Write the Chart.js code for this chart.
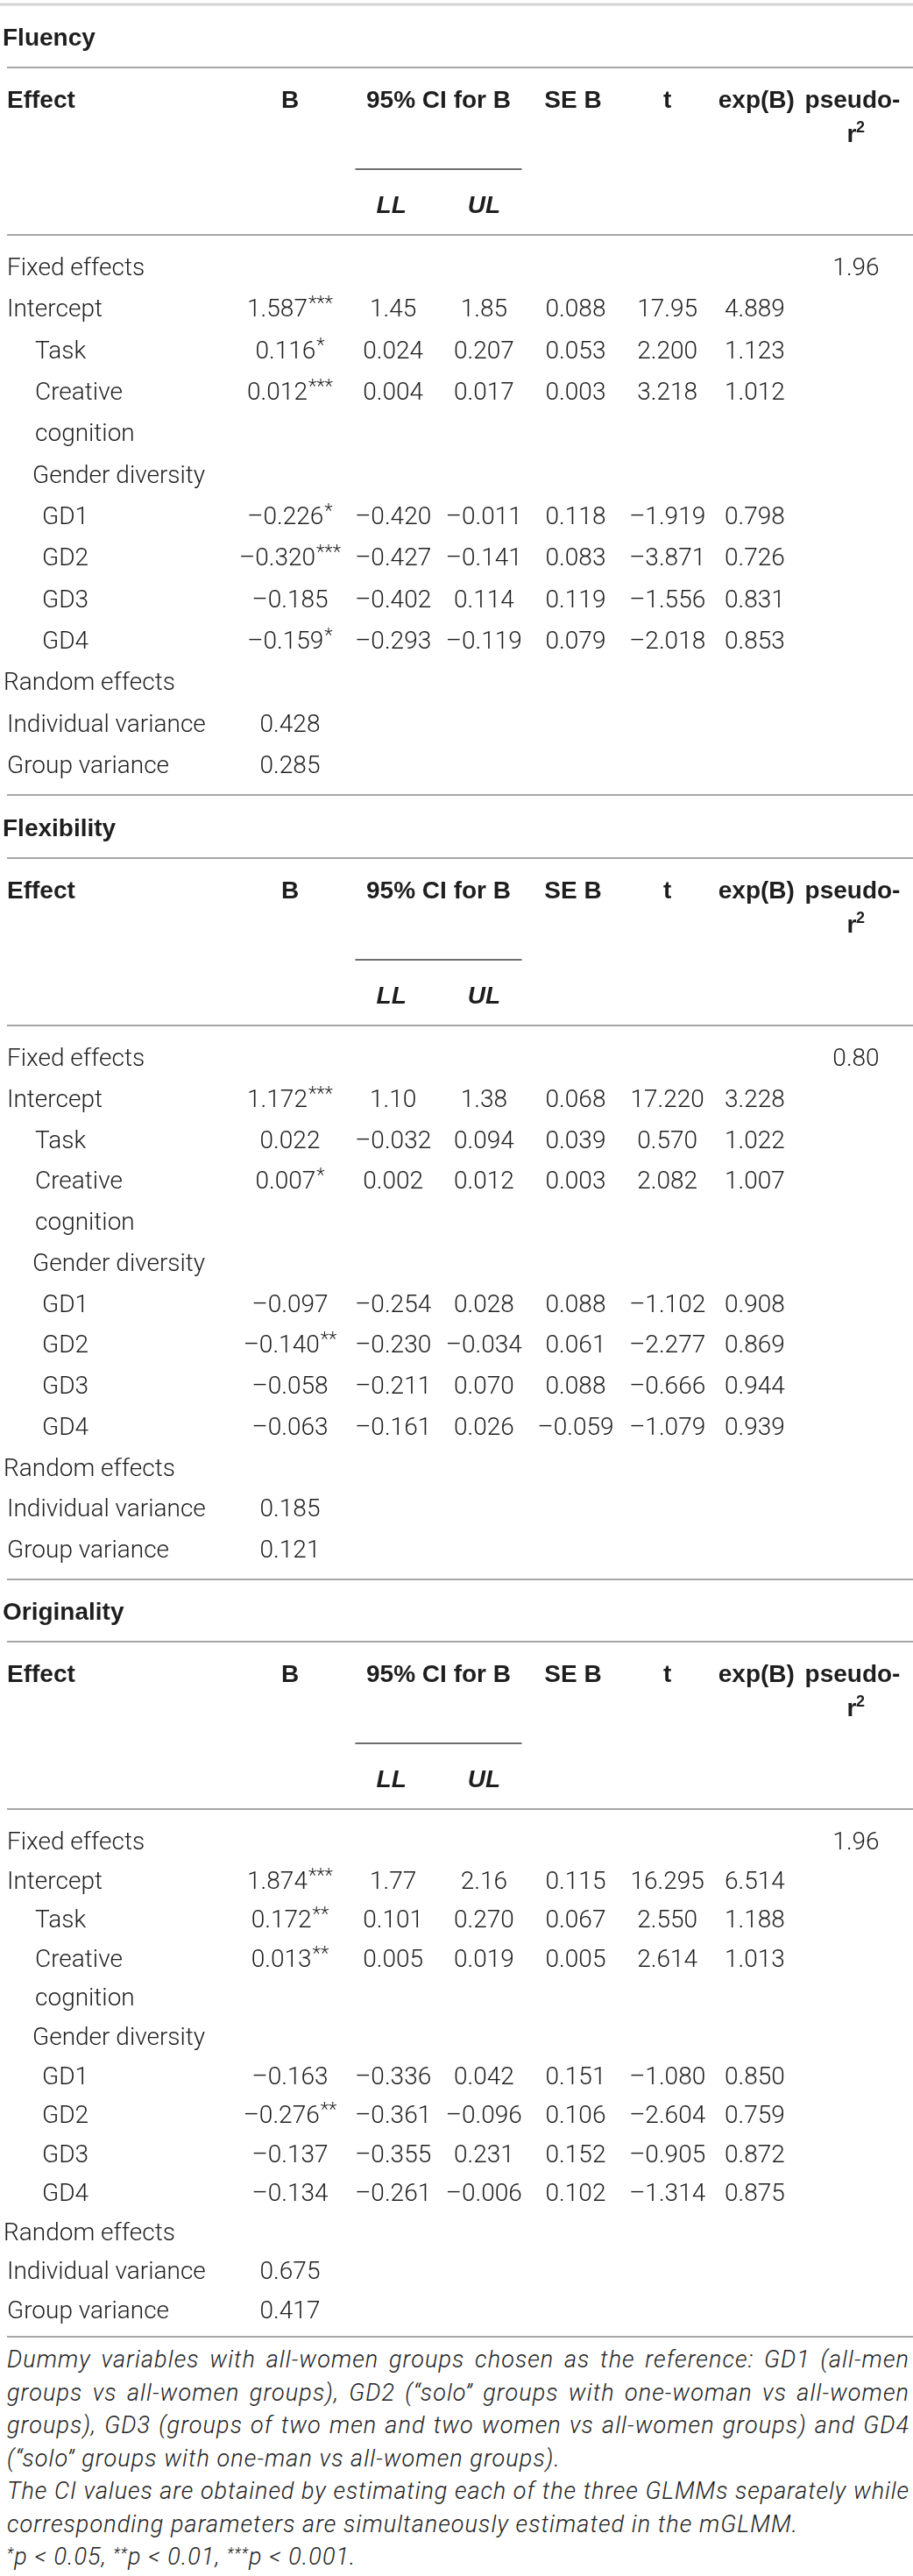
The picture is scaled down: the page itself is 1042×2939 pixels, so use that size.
<!DOCTYPE html>
<html>
<head>
<meta charset="utf-8">
<script src="https://cdn.jsdelivr.net/npm/chart.js@4.4.1/dist/chart.umd.min.js"></script>
<style>
  html, body { margin: 0; padding: 0; background: #fff; }
  canvas { display: block; }
  #notes {
    margin: 5px 0 0 8px;
    width: 1030px;
    font: italic 300 24px Roboto, "Liberation Sans", sans-serif;
    line-height: 37.5px;
    color: #222;
  }
  #notes div { white-space: nowrap; }
  #notes .j { text-align: justify; text-align-last: justify; }
  #notes sup { font-size: 0.65em; line-height: 0; vertical-align: 0.4em; }
</style>
</head>
<body>
<canvas id="fluency"></canvas>
<canvas id="flexibility"></canvas>
<canvas id="originality"></canvas>
<div id="notes">
  <div class="j">Dummy variables with all-women groups chosen as the reference: GD1 (all-men</div>
  <div class="j">groups vs all-women groups), GD2 (“solo” groups with one-woman vs all-women</div>
  <div class="j">groups), GD3 (groups of two men and two women vs all-women groups) and GD4</div>
  <div>(“solo” groups with one-man vs all-women groups).</div>
  <div class="j">The CI values are obtained by estimating each of the three GLMMs separately while</div>
  <div id="ref-line">corresponding parameters are simultaneously estimated in the mGLMM.</div>
  <div><sup>*</sup>p &lt; 0.05, <sup>**</sup>p &lt; 0.01, <sup>***</sup>p &lt; 0.001.</div>
</div>
<script>
// table rows (y categories) and columns (x categories, two blank slots after Effect)
const rows = ['Fixed effects', 'Intercept', 'Task', 'Creative', 'cognition', 'Gender diversity',
  'GD1', 'GD2', 'GD3', 'GD4', 'Random effects', 'Individual variance', 'Group variance'];
const columns = ['Effect', '', '', 'B', 'LL', 'UL', 'SE B', 't', 'exp(B)', 'pseudo-r2'];
const sectionTitles = ['Fluency', 'Flexibility', 'Originality'];

// Fluency
const fluencyB   = [null, '1.587***', '0.116*', '0.012***', null, null, '–0.226*', '–0.320***', '–0.185', '–0.159*', null, '0.428', '0.285'];
const fluencyLL  = [null, '1.45', '0.024', '0.004', null, null, '–0.420', '–0.427', '–0.402', '–0.293', null, null, null];
const fluencyUL  = [null, '1.85', '0.207', '0.017', null, null, '–0.011', '–0.141', '0.114', '–0.119', null, null, null];
const fluencySE  = [null, '0.088', '0.053', '0.003', null, null, '0.118', '0.083', '0.119', '0.079', null, null, null];
const fluencyT   = [null, '17.95', '2.200', '3.218', null, null, '–1.919', '–3.871', '–1.556', '–2.018', null, null, null];
const fluencyExp = [null, '4.889', '1.123', '1.012', null, null, '0.798', '0.726', '0.831', '0.853', null, null, null];
const fluencyR2  = ['1.96', null, null, null, null, null, null, null, null, null, null, null, null];

// Flexibility
const flexB   = [null, '1.172***', '0.022', '0.007*', null, null, '–0.097', '–0.140**', '–0.058', '–0.063', null, '0.185', '0.121'];
const flexLL  = [null, '1.10', '–0.032', '0.002', null, null, '–0.254', '–0.230', '–0.211', '–0.161', null, null, null];
const flexUL  = [null, '1.38', '0.094', '0.012', null, null, '0.028', '–0.034', '0.070', '0.026', null, null, null];
const flexSE  = [null, '0.068', '0.039', '0.003', null, null, '0.088', '0.061', '0.088', '–0.059', null, null, null];
const flexT   = [null, '17.220', '0.570', '2.082', null, null, '–1.102', '–2.277', '–0.666', '–1.079', null, null, null];
const flexExp = [null, '3.228', '1.022', '1.007', null, null, '0.908', '0.869', '0.944', '0.939', null, null, null];
const flexR2  = ['0.80', null, null, null, null, null, null, null, null, null, null, null, null];

// Originality
const origB   = [null, '1.874***', '0.172**', '0.013**', null, null, '–0.163', '–0.276**', '–0.137', '–0.134', null, '0.675', '0.417'];
const origLL  = [null, '1.77', '0.101', '0.005', null, null, '–0.336', '–0.361', '–0.355', '–0.261', null, null, null];
const origUL  = [null, '2.16', '0.270', '0.019', null, null, '0.042', '–0.096', '0.231', '–0.006', null, null, null];
const origSE  = [null, '0.115', '0.067', '0.005', null, null, '0.151', '0.106', '0.152', '0.102', null, null, null];
const origT   = [null, '16.295', '2.550', '2.614', null, null, '–1.080', '–2.604', '–0.905', '–1.314', null, null, null];
const origExp = [null, '6.514', '1.188', '1.013', null, null, '0.850', '0.759', '0.872', '0.875', null, null, null];
const origR2  = ['1.96', null, null, null, null, null, null, null, null, null, null, null, null];

// layout only
const W = 1042;
const rowIndent = [0, 0, 32, 32, 32, 29, 40, 40, 40, 40, -4, 0, 0];
const sectionBoxes = [
  { height: 910, top: 304, body: 568, topRule: true },
  { height: 895, top: 296, body: 561, topRule: false },
  { height: 864, top: 295, body: 535, topRule: false }
];
const BODY = '300 28px Roboto, "Liberation Sans", sans-serif';
const STARS = '300 22px Roboto, "Liberation Sans", sans-serif';
const HEAD = 'bold 28px "Liberation Sans", Arial, sans-serif';
const HEAD_IT = 'italic bold 28px "Liberation Sans", Arial, sans-serif';
const INK = '#1e1e1e';

function hline(ctx, x1, x2, y, color, w) {
  ctx.save();
  ctx.strokeStyle = color;
  ctx.lineWidth = w;
  ctx.beginPath();
  ctx.moveTo(x1, y);
  ctx.lineTo(x2, y);
  ctx.stroke();
  ctx.restore();
}

function drawValue(ctx, text, cx, y) {
  const m = text.match(/^(.*?)(\*+)$/);
  const main = m ? m[1] : text;
  const stars = m ? m[2] : '';
  ctx.font = BODY;
  const w1 = ctx.measureText(main).width;
  ctx.font = STARS;
  const w2 = stars ? ctx.measureText(stars).width + 1 : 0;
  const x0 = cx - (w1 + w2) / 2;
  ctx.textAlign = 'left';
  ctx.font = BODY;
  ctx.fillText(main, x0, y);
  if (stars) {
    ctx.font = STARS;
    ctx.fillText(stars, x0 + w1 + 1, y - 8);
  }
}

const tablePlugin = {
  id: 'tableText',
  afterDatasetsDraw(chart, args, opts) {
    const ctx = chart.ctx;
    const xs = chart.scales.x;
    const T = chart.chartArea.top;
    const H = chart.height;
    const px = (c) => xs.getPixelForValue(columns.indexOf(c));
    ctx.save();
    ctx.fillStyle = INK;
    ctx.textBaseline = 'alphabetic';

    if (opts.topRule) hline(ctx, 0, W, 5, '#d4d4d4', 3);
    // section title and header
    ctx.font = HEAD;
    ctx.textAlign = 'left';
    ctx.fillText(opts.title, 3, T - 262 + 10);
    hline(ctx, 8, W, T - 227, '#a6a6a6', 2);
    const hy = T - 191 + 10;
    ctx.fillText('Effect', px('Effect'), hy);
    ctx.textAlign = 'center';
    ctx.fillText('B', px('B'), hy);
    const ciMid = (px('LL') + px('UL')) / 2 + 8;
    ctx.fillText('95% CI for B', ciMid, hy);
    ctx.fillText('SE B', px('SE B'), hy);
    ctx.fillText('t', px('t'), hy);
    ctx.fillText('exp(B)', px('exp(B)') - 6, hy);
    ctx.fillText('pseudo-', px('pseudo-r2') - 4, hy);
    const ry = T - 152 + 10;
    ctx.fillText('r', px('pseudo-r2') - 5, ry);
    ctx.font = 'bold 18px "Liberation Sans", Arial, sans-serif';
    ctx.fillText('2', px('pseudo-r2') + 5, ry - 11);
    hline(ctx, ciMid - 95, ciMid + 95, T - 111, '#6e6e6e', 2);
    ctx.font = HEAD_IT;
    ctx.fillText('LL', px('LL') + 8, T - 71 + 10);
    ctx.fillText('UL', px('UL') + 6, T - 71 + 10);
    hline(ctx, 8, W, T - 36, '#a6a6a6', 2);

    // body cells, placed on the points Chart.js laid out
    chart.data.datasets.forEach((ds, di) => {
      const meta = chart.getDatasetMeta(di);
      meta.data.forEach((pt, i) => {
        const d = ds.data[i];
        const y = pt.y + 10;
        if (ds.label === 'Effect') {
          ctx.font = BODY;
          ctx.textAlign = 'left';
          ctx.fillText(d.text, pt.x + rowIndent[rows.indexOf(d.y)], y);
        } else {
          drawValue(ctx, d.text, pt.x + (ds.shift || 0), y);
        }
      });
    });

    hline(ctx, 8, W, H - 3, '#a6a6a6', 2);
    ctx.restore();
  }
};

function cells(col, values) {
  return rows.map((r, i) => ({ x: col, y: r, text: values[i] })).filter(d => d.text != null);
}

function makeTable(id, k, B, LL, UL, SE, T, Exp, R2) {
  const box = sectionBoxes[k];
  const canvas = document.getElementById(id);
  canvas.width = W;
  canvas.height = box.height;
  canvas.style.width = W + 'px';
  canvas.style.height = box.height + 'px';
  const pt = { pointRadius: 0, pointHoverRadius: 0 };
  new Chart(canvas, {
    type: 'scatter',
    data: {
      datasets: [
        { label: 'Effect', data: cells('Effect', rows), ...pt },
        { label: 'B', data: cells('B', B), ...pt },
        { label: 'LL', data: cells('LL', LL), shift: 10, ...pt },
        { label: 'UL', data: cells('UL', UL), shift: 6, ...pt },
        { label: 'SE B', data: cells('SE B', SE), shift: 3, ...pt },
        { label: 't', data: cells('t', T), ...pt },
        { label: 'exp(B)', data: cells('exp(B)', Exp), shift: -8, ...pt },
        { label: 'pseudo-r2', data: cells('pseudo-r2', R2), ...pt }
      ]
    },
    options: {
      responsive: false,
      animation: false,
      events: [],
      layout: { padding: { left: 8, right: W - 977, top: box.top, bottom: box.height - box.top - box.body } },
      scales: {
        x: { type: 'category', labels: columns, offset: false, display: false },
        y: { type: 'category', labels: rows, offset: false, display: false }
      },
      plugins: {
        legend: { display: false },
        tooltip: { enabled: false },
        tableText: { title: sectionTitles[k], topRule: box.topRule }
      }
    },
    plugins: [tablePlugin]
  });
}

makeTable('fluency', 0, fluencyB, fluencyLL, fluencyUL, fluencySE, fluencyT, fluencyExp, fluencyR2);
makeTable('flexibility', 1, flexB, flexLL, flexUL, flexSE, flexT, flexExp, flexR2);
makeTable('originality', 2, origB, origLL, origUL, origSE, origT, origExp, origR2);

// fit the note lines: the unjustified line sets the font size, justified lines fill 1030px
function textWidth(el) {
  const r = document.createRange();
  r.selectNodeContents(el);
  return r.getBoundingClientRect().width;
}
const notes = document.getElementById('notes');
const refLine = document.getElementById('ref-line');
const fs = Math.min(27, 24 * 903 / textWidth(refLine));
notes.style.fontSize = fs + 'px';
const baseLs = (903 - textWidth(refLine)) / refLine.textContent.length;
notes.style.letterSpacing = baseLs + 'px';
notes.querySelectorAll('div.j').forEach(el => {
  el.classList.remove('j');
  const w = textWidth(el);
  if (w > 1030) el.style.letterSpacing = (baseLs - (w - 1030) / el.textContent.length - 0.05) + 'px';
  el.classList.add('j');
});
</script>
</body>
</html>
